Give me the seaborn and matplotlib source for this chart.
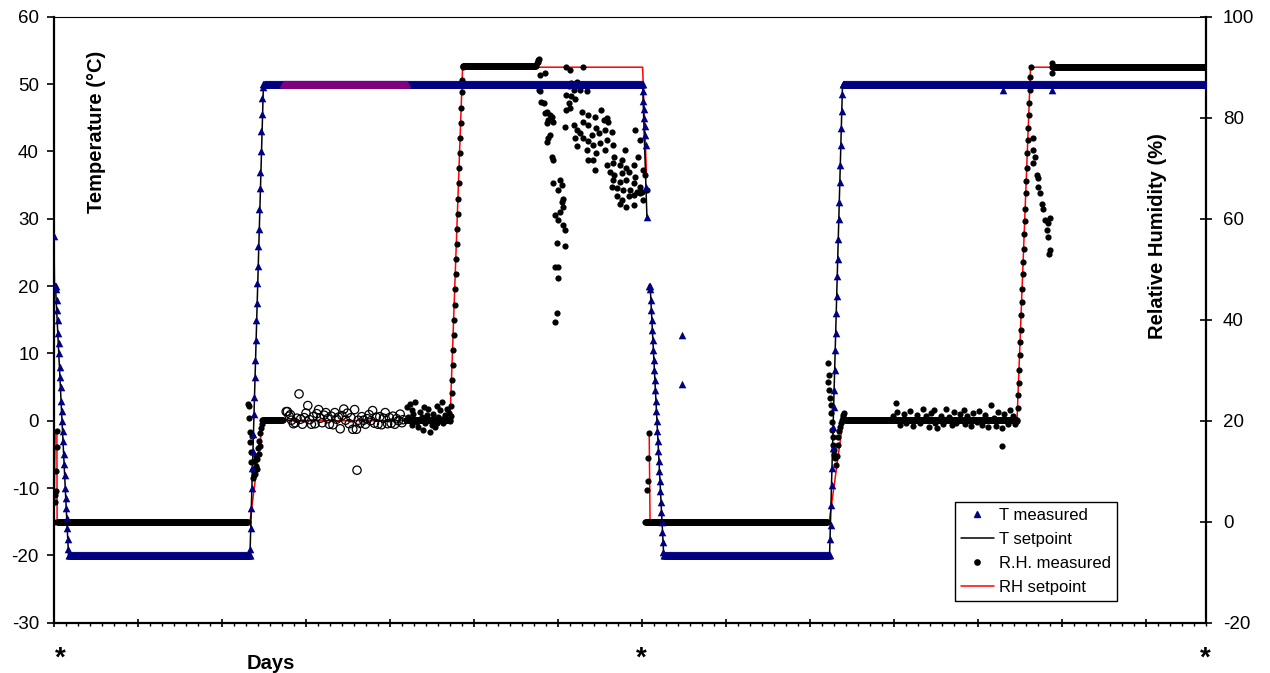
import numpy as np
import matplotlib
matplotlib.use('Agg')
import matplotlib.pyplot as plt
import matplotlib.transforms as mtransforms
from matplotlib.lines import Line2D
from matplotlib.ticker import MultipleLocator
import seaborn as sns

STEP = 1 / 24  # hourly readings

# ---------------- temperature, left axis (degC) ----------------
# flat stretches: (first day, last day, value)
t_flat = [(1.25, 16.30, -20), (17.50, 49.05, 50), (50.85, 64.60, -20), (65.75, 96.01, 50)]
# ramps: (start day, hourly values)
t_ramp1 = [27.5, 20, 20, 20, 19.5, 18, 16.5, 15, 13, 11.5, 10, 8, 6.5, 5, 3, 1.5, 0,
           -1.5, -3, -5, -6.5, -8, -10, -11.5, -13, -14.5, -16, -17.5, -19, -20]
t_ramp2 = [-20, -19, -16, -13, -10, -7, -4.5, -2, 1, 3.5, 6.5, 9, 12, 15, 17.5, 20.5,
           23, 26, 28.5, 31.5, 34.5, 37, 40, 43, 45.5, 48, 49.5, 50]
t_drop = [48.9, 47.5, 46.3, 45, 43.8, 42.5, 41, 34.7, 30.3]
t_ramp3 = [20, 20, 19.5, 18, 16.5, 15, 13.5, 12, 10.5, 9, 7.5, 6, 4.5, 3, 1.5, 0, -1.5,
           -3, -4.5, -6, -7.5, -9, -10.5, -12, -13.5, -15, -16.5, -18, -19.5, -20]
t_ramp4 = [-20, -17.5, -15.5, -12.5, -9.5, -7, -4, -1, 2, 4.5, 7.5, 10.5, 13, 16, 18.5,
           21.5, 24, 27, 30, 32.5, 35.5, 38, 41, 43.5, 46, 48.5, 50]
t_ramps = [(0.0, t_ramp1), (16.33, t_ramp2), (49.08, t_drop), (49.60, t_ramp3), (64.63, t_ramp4)]
t_extra_days = [52.33, 52.33, 79.1, 83.2]
t_extra_vals = [12.7, 5.4, 49.1, 49.1]

# second sensor (purple) during the 50 degC hold
t2_flat = [(19.10, 29.40, 50)]

# temperature set point, drawn as a line (two pieces, gap at day 49)
tset_a_days = [0, 0.04, 0.125, 1.21, 16.33, 17.455, 49.05, 49.41]
tset_a_vals = [27.5, 20, 20, -20, -20, 50, 50, 30.3]
tset_b_days = [49.60, 49.68, 50.81, 64.63, 65.71, 96]
tset_b_vals = [20, 20, -20, -20, 50, 50]

# ---------------- relative humidity, right axis (%) ----------------
rh_flat = [(0.29, 16.20, 0), (17.40, 19.10, 20.1), (29.30, 33.00, 20.1), (34.08, 40.20, 90.2),
           (49.25, 64.50, 0), (65.90, 80.25, 20.2), (83.20, 96.01, 90.1)]
rh_start = [0, 4, 5.3, 6, 10, 14.7, 18]
rh_rise1 = [20, 21, 23, 25.5, 28, 31, 34, 37, 40, 43, 46, 49, 52, 55, 58, 61, 64, 67, 70,
            73, 76, 79, 82, 85, 87.5, 90]
rh_rise2 = [20, 22.5, 25, 27.5, 30, 33, 35.5, 38, 41, 43.5, 46, 49, 51.5, 54, 57, 59.5,
            62, 65, 67.5, 70, 73, 75.5, 78, 80.5, 83, 85.5, 88, 90]
rh_ramps = [(0.0, rh_start), (33.0, rh_rise1), (80.25, rh_rise2)]

rh_tr1_days = [16.20, 16.24, 16.28, 16.32, 16.36, 16.40, 16.45, 16.50, 16.55, 16.60, 16.65,
               16.70, 16.75, 16.80, 16.85, 16.90, 16.95, 17.00, 17.05, 17.10, 17.15, 17.20,
               17.25, 17.30, 17.35]
rh_tr1_vals = [23.3, 23.0, 20.5, 17.8, 15.8, 13.8, 11.8, 17.0, 10.2, 8.7, 9.3, 12.0, 9.5,
               11.0, 13.0, 10.5, 12.5, 14.5, 13.5, 16.0, 15.0, 17.5, 18.5, 19.3, 20.2]

rh_sc1_days = [29.39, 29.50, 29.67, 29.81, 29.85, 29.94, 30.08, 30.22, 30.36, 30.50, 30.64,
               30.78, 30.80, 30.92, 31.06, 31.19, 31.33, 31.35, 31.47, 31.61, 31.75, 31.89,
               31.90, 32.03, 32.17, 32.31, 32.35, 32.44, 32.58, 32.72, 32.86, 32.95]
rh_sc1_vals = [22.7, 20.8, 23.4, 22.1, 19.2, 21.4, 23.7, 19.8, 18.8, 21.7, 20.7, 18.2, 22.7,
               19.5, 21.1, 22.4, 20.1, 17.8, 19.2, 21.4, 18.8, 23.0, 19.5, 20.7, 22.1, 23.7,
               20.4, 19.5, 21.1, 22.4, 20.1, 21.5]

# drying out after the wet hold: fast branch and slow cluster
rh_b1_days = [40.25, 40.30, 40.35, 40.42, 40.5, 40.9, 40.4, 40.5, 40.6, 40.8, 41.1, 41.3,
              40.9, 41.2, 41.5, 41.6, 41.1, 41.3, 41.2, 41.1, 41.5, 41.6, 41.6, 42.2, 42.3,
              42.0, 42.4, 42.3, 42.4, 42.2, 41.75, 42.0, 42.4, 42.6, 41.9, 42.6, 41.75, 42.0,
              42.0, 41.9, 41.75]
rh_b1_vals = [90.8, 91.1, 91.4, 91.6, 88.5, 88.8, 85.5, 85.2, 83.2, 82.9, 81.2, 80.5, 80.9,
              79.5, 80.2, 79.2, 78.9, 76.6, 75.9, 75.2, 72.3, 71.6, 67.0, 67.7, 66.7, 65.7,
              64.0, 63.4, 62.4, 61.4, 60.7, 59.7, 58.8, 57.8, 55.1, 54.5, 50.5, 50.5, 48.2,
              41.3, 39.6]
rh_b2_days = [42.7, 44.1, 43.0, 43.1, 43.6, 43.7, 42.9, 43.3, 43.8, 44.4, 42.7, 43.1, 43.4,
              42.9, 43.0, 42.7, 44.0, 44.5, 45.1, 45.6, 46.1, 44.1, 44.5, 45.2, 45.8, 46.2,
              43.3, 42.6, 43.6, 43.8, 44.8, 45.4, 45.9, 46.5, 43.4, 44.1, 44.5, 44.9, 45.5,
              46.1, 46.6, 43.6, 44.4, 45.2, 45.9, 46.7, 47.3, 47.6, 44.5, 44.9, 46.1, 46.6,
              47.2, 47.7, 48.3, 45.1, 46.3, 46.7, 47.3, 47.9, 48.4, 46.6, 47.2, 47.7, 48.3,
              48.8, 46.5, 46.9, 47.4, 48.0, 48.6, 49.0, 49.4, 46.9, 47.3, 47.9, 48.3, 48.8,
              47.2, 47.7, 48.3, 49.1, 48.4, 48.8, 48.7, 49.1, 49.25]
rh_b2_vals = [90.1, 90.1, 89.4, 86.8, 87.1, 86.5, 86.2, 85.5, 85.5, 85.2, 84.5, 84.2, 83.8,
              82.9, 81.9, 81.5, 81.2, 80.5, 80.2, 81.5, 79.9, 79.2, 78.6, 77.9, 79.5, 79.2,
              78.6, 78.2, 77.6, 76.9, 76.6, 76.9, 77.6, 77.2, 75.9, 75.9, 75.3, 74.6, 74.9,
              75.6, 74.6, 74.3, 73.6, 73.0, 73.6, 72.3, 71.6, 73.6, 71.6, 71.6, 70.6, 71.0,
              70.6, 70.0, 70.6, 69.6, 69.3, 68.7, 69.0, 69.3, 68.3, 67.7, 67.3, 67.7, 67.0,
              66.3, 66.3, 66.0, 65.7, 65.7, 65.3, 65.3, 65.7, 64.4, 63.7, 64.4, 64.7, 65.0,
              63.0, 62.4, 62.7, 63.7, 77.6, 75.6, 72.3, 69.6, 68.7]
rh_drop_days = [49.45, 49.50, 49.52, 49.60]
rh_drop_vals = [6.3, 8.1, 12.6, 17.5]

rh_tr2_days = [64.50, 64.53, 64.58, 64.61, 64.66, 64.72, 64.76, 64.81, 64.85, 64.89, 64.94,
               64.98, 65.03, 65.08, 65.15, 65.22, 65.30, 65.36, 65.44, 65.50, 65.57, 65.64,
               65.71, 65.78, 65.85]
rh_tr2_vals = [31.4, 27.7, 29.0, 26.1, 24.4, 21.5, 23.1, 19.8, 18.2, 16.8, 15.2, 14.2, 13.3,
               12.6, 11.2, 13.0, 15.2, 16.8, 18.0, 18.8, 19.6, 20.1, 20.7, 21.1, 21.5]

rh_sc2_days = [69.9, 70.2, 70.25, 70.5, 70.8, 71.0, 71.3, 71.6, 71.9, 72.2, 72.4, 72.7, 72.9,
               73.1, 73.3, 73.4, 73.6, 73.9, 74.1, 74.3, 74.6, 74.8, 75.0, 75.2, 75.5, 75.8,
               75.9, 76.1, 76.4, 76.6, 76.9, 77.1, 77.3, 77.6, 77.8, 78.1, 78.3, 78.5, 78.7,
               78.97, 79.0, 79.2, 79.5, 79.7, 79.9, 80.1]
rh_sc2_vals = [21.0, 23.6, 21.8, 19.2, 21.3, 19.5, 22.0, 19.0, 21.2, 19.6, 22.3, 20.9, 18.8,
               21.5, 22.1, 19.5, 18.5, 21.0, 19.3, 22.4, 20.8, 19.1, 21.7, 19.6, 21.3, 22.1,
               19.4, 20.9, 18.9, 21.6, 19.8, 22.0, 19.2, 21.1, 18.8, 23.1, 20.6, 19.0, 21.8,
               14.9, 18.5, 21.4, 19.3, 22.2, 20.9, 19.4]

rh_b3_days = [81.55, 81.61, 81.61, 81.75, 81.89, 82.03, 82.03, 82.17, 82.31, 82.44, 82.58,
              82.72, 82.86, 82.86, 83.0, 83.0, 82.94, 83.15, 83.15]
rh_b3_vals = [76.0, 73.6, 71.0, 72.3, 68.6, 68.0, 66.3, 65.0, 63.0, 62.0, 59.7, 57.8, 59.1,
              56.4, 60.1, 53.8, 53.1, 88.9, 90.8]

# second RH sensor (open circles) during the first 20 % hold
rh2_days = [19.35, 19.45, 19.6, 19.7, 19.8, 19.95, 20.1, 20.25, 20.42, 20.55, 20.7, 20.85,
            21.0, 21.15, 21.3, 21.45, 21.6, 21.75, 21.9, 22.05, 22.2, 22.35, 22.5, 22.65,
            22.8, 22.95, 23.1, 23.25, 23.4, 23.55, 23.7, 23.85, 24.0, 24.15, 24.3, 24.45,
            24.6, 24.75, 24.9, 25.05, 25.25, 25.2, 25.35, 25.5, 25.65, 25.8, 25.95, 26.1,
            26.25, 26.4, 26.55, 26.7, 26.85, 27.0, 27.15, 27.3, 27.45, 27.6, 27.8, 27.95,
            28.1, 28.25, 28.4, 28.55, 28.7, 28.85, 29.0, 29.1]
rh2_vals = [21.8, 21.8, 20.9, 21.2, 20.1, 19.4, 19.6, 20.5, 25.3, 20.3, 19.3, 20.6, 21.5,
            23.0, 20.2, 19.3, 20.8, 19.4, 21.4, 22.2, 20.5, 19.6, 21.1, 21.6, 20.4, 19.3,
            20.9, 19.2, 21.6, 20.3, 20.7, 18.4, 21.0, 22.3, 20.1, 21.5, 19.4, 20.6, 18.3,
            22.2, 10.2, 18.3, 20.1, 19.5, 20.8, 20.1, 19.3, 20.4, 21.2, 20.0, 22.0, 19.5,
            20.7, 19.3, 20.8, 19.2, 20.5, 21.6, 19.4, 20.6, 19.5, 20.9, 19.3, 20.4, 20.0,
            21.3, 19.6, 20.2]

# RH set point (gap at day 49)
rhset_a_days = [0, 0.10, 0.24, 0.26, 16.33, 17.40, 33.0, 34.05, 49.05, 49.38]
rhset_a_vals = [0, 18, 18, 0, 0, 20, 20, 90, 90, 68.4]
rhset_b_days = [49.60, 49.67, 64.60, 65.75, 80.25, 81.38, 96]
rhset_b_vals = [17.5, 0, 0, 20, 20, 90, 90]


def expand(flats, ramps=(), extra_days=(), extra_vals=()):
    days, vals = [], []
    for d0, d1, v in flats:
        d = np.arange(d0, d1, STEP)
        days.append(d)
        vals.append(np.full(d.size, float(v)))
    for d0, seq in ramps:
        days.append(d0 + STEP * np.arange(len(seq)))
        vals.append(np.asarray(seq, dtype=float))
    days.append(np.asarray(extra_days, dtype=float))
    vals.append(np.asarray(extra_vals, dtype=float))
    return np.concatenate(days), np.concatenate(vals)


t_days, t_vals = expand(t_flat, t_ramps, t_extra_days, t_extra_vals)
t2_days, t2_vals = expand(t2_flat)
rh_days, rh_vals = expand(
    rh_flat, rh_ramps,
    rh_tr1_days + rh_sc1_days + rh_b1_days + rh_b2_days + rh_drop_days + rh_tr2_days + rh_sc2_days + rh_b3_days,
    rh_tr1_vals + rh_sc1_vals + rh_b1_vals + rh_b2_vals + rh_drop_vals + rh_tr2_vals + rh_sc2_vals + rh_b3_vals)

# ---------------- plot ----------------
sns.set_style('white')
plt.rcParams['font.family'] = ['Liberation Sans', 'DejaVu Sans']
plt.rcParams['axes.unicode_minus'] = False
for k in ['text.color', 'axes.labelcolor', 'xtick.color', 'ytick.color', 'axes.edgecolor']:
    plt.rcParams[k] = 'black'

NAVY = '#000080'
PURPLE = '#800080'

fig = plt.figure(figsize=(12.7, 6.73), dpi=100)
ax = fig.add_axes([54 / 1270, (673 - 622.7) / 673, 1152 / 1270, 606 / 673])
ax2 = ax.twinx()

# humidity (right axis, drawn underneath)
sns.lineplot(x=rhset_a_days, y=rhset_a_vals, ax=ax2, color='red', lw=1.1, sort=False, estimator=None, zorder=1)
sns.lineplot(x=rhset_b_days, y=rhset_b_vals, ax=ax2, color='red', lw=1.1, sort=False, estimator=None, zorder=1)
sns.scatterplot(x=rh_days, y=rh_vals, ax=ax2, color='black', marker='o', s=20, linewidth=0, zorder=2)
sns.scatterplot(x=rh2_days, y=rh2_vals, ax=ax2, color='black', marker='o', s=36,
                edgecolor='black', linewidth=0.9, zorder=2)
ax2.collections[-1].set_facecolor('none')

# temperature (left axis, on top)
sns.lineplot(x=tset_a_days, y=tset_a_vals, ax=ax, color='black', lw=1.1, sort=False, estimator=None, zorder=1)
sns.lineplot(x=tset_b_days, y=tset_b_vals, ax=ax, color='black', lw=1.1, sort=False, estimator=None, zorder=1)
sns.scatterplot(x=t_days, y=t_vals, ax=ax, color=NAVY, marker='^', s=30, linewidth=0, zorder=3)
sns.scatterplot(x=t2_days, y=t2_vals, ax=ax, color=PURPLE, marker='^', s=30, linewidth=0, zorder=4)

ax.set_zorder(ax2.get_zorder() + 1)
ax.patch.set_visible(False)

ax.set_xlim(0, 96)
ax.set_ylim(-30, 60)
ax2.set_ylim(-20, 100)
ax.set_yticks(range(-30, 61, 10))
ax2.set_yticks(range(-20, 101, 20))
ax.xaxis.set_major_locator(MultipleLocator(7))
ax.xaxis.set_minor_locator(MultipleLocator(1))
ax.set_xlabel('')
ax.set_ylabel('')
ax2.set_ylabel('')
ax.tick_params(axis='x', which='major', direction='inout', length=6, width=1.2, labelbottom=False, bottom=True)
ax.tick_params(axis='x', which='minor', direction='out', length=2.5, width=1, bottom=True)
ax.tick_params(axis='y', direction='out', length=4.8, width=1.2, labelsize=13.5, pad=6, left=True)
ax2.tick_params(axis='y', direction='inout', length=8.6, width=1.2, labelsize=13.5, pad=8, right=True)

for s in ['left', 'bottom']:
    ax.spines[s].set_linewidth(1.6)
ax.spines['top'].set_linewidth(0.8)
ax.spines['right'].set_visible(False)
for s in ['left', 'bottom', 'top']:
    ax2.spines[s].set_visible(False)
ax2.spines['right'].set_linewidth(1.6)

ax.text(0.0365, 0.8106, 'Temperature (°C)', transform=ax.transAxes, rotation=90,
        ha='center', va='center', fontsize=14.5, fontweight='bold')
ax.text(0.958, 0.638, 'Relative Humidity (%)', transform=ax.transAxes, rotation=90,
        ha='center', va='center', fontsize=14.5, fontweight='bold')
ax.text(0.188, -0.0673, 'Days', transform=ax.transAxes, ha='center', va='center',
        fontsize=14.5, fontweight='bold')
trans = mtransforms.blended_transform_factory(ax.transData, ax.transAxes)
for d in [0.5, 48.9, 95.9]:
    ax.text(d, -0.060, '*', transform=trans, ha='center', va='center', fontsize=20, fontweight='bold')

handles = [
    Line2D([], [], marker='^', color=NAVY, linestyle='none', markersize=5),
    Line2D([], [], color='black', lw=1.1),
    Line2D([], [], marker='o', color='black', linestyle='none', markersize=3.8),
    Line2D([], [], color='red', lw=1.1),
]
labels = ['T measured', 'T setpoint', 'R.H. measured', 'RH setpoint']
leg = ax.legend(handles, labels, loc='lower left', bbox_to_anchor=(0.782, 0.036),
                frameon=True, fancybox=False, edgecolor='black', framealpha=1,
                fontsize=12, borderpad=0.35, labelspacing=0.54, handlelength=2.0,
                handletextpad=0.3, borderaxespad=0)
leg.get_frame().set_linewidth(1)

fig.savefig('out.png', dpi=100, facecolor='white')
